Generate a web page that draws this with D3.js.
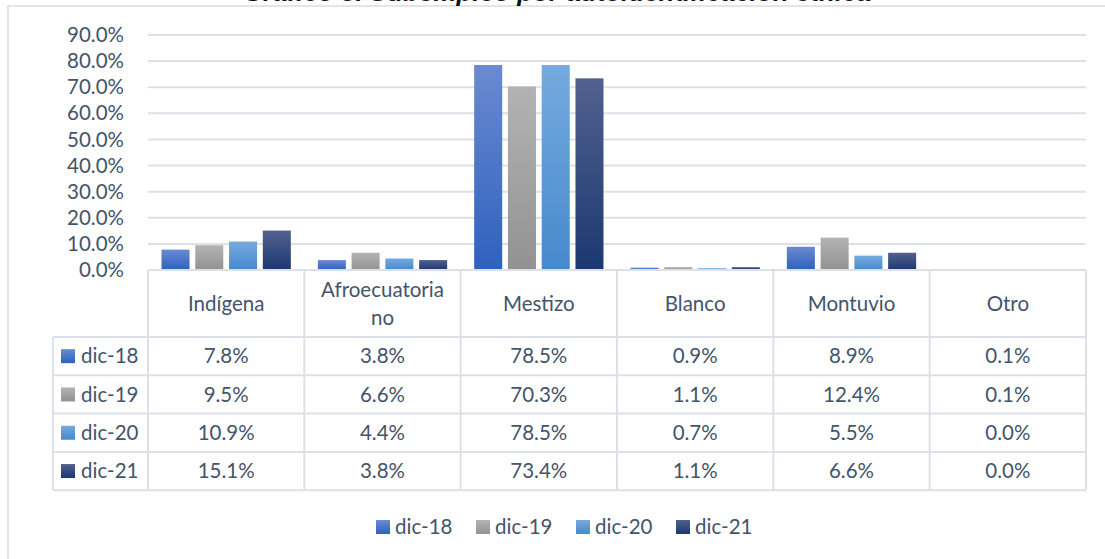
<!DOCTYPE html>
<html>
<head>
<meta charset="utf-8">
<script src="https://cdn.jsdelivr.net/npm/d3@7"></script>
<style>
  html, body { margin: 0; padding: 0; background: #fff; }
  svg { display: block; }
</style>
</head>
<body>
<svg id="chart"></svg>
<script>
// data
const categories = ["Indígena", "Afroecuatoriano", "Mestizo", "Blanco", "Montuvio", "Otro"];
const headerLines = [["Indígena"], ["Afroecuatoria", "no"], ["Mestizo"], ["Blanco"], ["Montuvio"], ["Otro"]];
const series = ["dic-18", "dic-19", "dic-20", "dic-21"];
const dic18 = [7.8, 3.8, 78.5, 0.9, 8.9, 0.1];
const dic19 = [9.5, 6.6, 70.3, 1.1, 12.4, 0.1];
const dic20 = [10.9, 4.4, 78.5, 0.7, 5.5, 0.0];
const dic21 = [15.1, 3.8, 73.4, 1.1, 6.6, 0.0];
const yTicks = [0, 10, 20, 30, 40, 50, 60, 70, 80, 90];
const title = "Gráfico 3. Subempleo por autoidentificación étnica";

const values = [dic18, dic19, dic20, dic21];
const width = 1105, height = 559;
const margin = {left: 148, right: 19, top: 35, bottom: 289};
const font = "Lato, 'Open Sans', sans-serif";
const fs = 20.5;
const textColor = "#44546a";
const lineColor = "#dde1e7";

// top / bottom of each series' gradient
const grads = [
  ["#6b8ad1", "#2e61be"],
  ["#b3b3b3", "#929292"],
  ["#76aade", "#4689cd"],
  ["#52618f", "#1b3870"]
];

const svg = d3.select("#chart")
  .attr("width", width)
  .attr("height", height)
  .attr("viewBox", [0, 0, width, height]);

const defs = svg.append("defs");
grads.forEach((c, i) => {
  const lg = defs.append("linearGradient")
    .attr("id", "g" + i)
    .attr("x1", 0).attr("y1", 0).attr("x2", 0).attr("y2", 1);
  lg.append("stop").attr("offset", "0%").attr("stop-color", c[0]);
  lg.append("stop").attr("offset", "100%").attr("stop-color", c[1]);
});

// outer chart frame
svg.append("rect")
  .attr("x", 8).attr("y", 6)
  .attr("width", width).attr("height", height)
  .attr("fill", "#fff")
  .attr("stroke", "#d9dde3")
  .attr("stroke-width", 1.5);

// title, mostly cut off at top of the picture (as in the reference)
svg.append("text")
  .attr("x", 557).attr("y", 0.5)
  .attr("text-anchor", "middle")
  .attr("font-family", "'Liberation Sans', Arial, sans-serif")
  .attr("font-size", 26)
  .attr("font-weight", "bold")
  .attr("font-style", "italic")
  .attr("fill", "#111")
  .text(title);

const x = d3.scaleBand()
  .domain(categories)
  .range([margin.left, width - margin.right]);

const xs = d3.scaleBand()
  .domain(series)
  .range([0, x.bandwidth()])
  .paddingInner(0.17)
  .paddingOuter(0.4);

const y = d3.scaleLinear()
  .domain([0, 90])
  .range([height - margin.bottom, margin.top]);

// gridlines
svg.append("g")
  .selectAll("line")
  .data(yTicks)
  .join("line")
  .attr("x1", margin.left).attr("x2", width - margin.right)
  .attr("y1", d => y(d)).attr("y2", d => y(d))
  .attr("stroke", lineColor)
  .attr("stroke-width", 2);

// y axis labels
const yAxis = svg.append("g")
  .attr("transform", `translate(${margin.left - 24},0)`)
  .call(d3.axisLeft(y).tickValues(yTicks).tickFormat(d => d.toFixed(1) + "%").tickSize(0).tickPadding(0));
yAxis.select(".domain").remove();
yAxis.selectAll(".tick text")
  .attr("font-family", font)
  .attr("font-size", fs)
  .attr("fill", textColor);

// bars
svg.append("g")
  .selectAll("g")
  .data(series)
  .join("g")
  .attr("fill", (d, i) => `url(#g${i})`)
  .selectAll("rect")
  .data((s, i) => categories.map((c, j) => ({c, s, v: values[i][j]})))
  .join("rect")
  .attr("x", d => x(d.c) + xs(d.s))
  .attr("y", d => y(d.v))
  .attr("width", xs.bandwidth())
  .attr("height", d => y(0) - y(d.v));

// data table under the plot
const tableTop = y(0);
const headerH = 67;
const rowH = 38.3;
const legendLeft = 53;
const table = svg.append("g");
const bottom = tableTop + headerH + rowH * series.length;

// horizontal lines
table.append("line")
  .attr("x1", margin.left).attr("x2", width - margin.right)
  .attr("y1", tableTop).attr("y2", tableTop)
  .attr("stroke", lineColor).attr("stroke-width", 2);
table.selectAll(".hl")
  .data(d3.range(series.length + 1))
  .join("line")
  .attr("x1", legendLeft).attr("x2", width - margin.right)
  .attr("y1", i => tableTop + headerH + i * rowH)
  .attr("y2", i => tableTop + headerH + i * rowH)
  .attr("stroke", lineColor).attr("stroke-width", 2);

// vertical lines
const colEdges = categories.map(c => x(c)).concat([x.range()[1]]);
table.selectAll(".vl")
  .data(colEdges)
  .join("line")
  .attr("x1", d => d).attr("x2", d => d)
  .attr("y1", tableTop).attr("y2", bottom)
  .attr("stroke", lineColor).attr("stroke-width", 2);
table.append("line")
  .attr("x1", legendLeft).attr("x2", legendLeft)
  .attr("y1", tableTop + headerH).attr("y2", bottom)
  .attr("stroke", lineColor).attr("stroke-width", 2);

// header labels
table.selectAll(".hdr")
  .data(categories)
  .join("text")
  .attr("x", d => x(d) + x.bandwidth() / 2)
  .attr("y", tableTop + headerH / 2)
  .attr("text-anchor", "middle")
  .attr("font-family", font)
  .attr("font-size", fs)
  .attr("fill", textColor)
  .each(function(d, i) {
    const lines = headerLines[i];
    const t = d3.select(this);
    lines.forEach((l, k) => {
      t.append("tspan")
        .attr("x", x(d) + x.bandwidth() / 2)
        .attr("dy", k === 0 ? (0.35 - (lines.length - 1) * 0.68) + "em" : "1.36em")
        .text(l);
    });
  });

// rows
series.forEach((s, i) => {
  const cy = tableTop + headerH + i * rowH + rowH / 2;
  table.append("rect")
    .attr("x", 61).attr("y", cy - 7)
    .attr("width", 14).attr("height", 14)
    .attr("fill", `url(#g${i})`);
  table.append("text")
    .attr("x", 81).attr("y", cy)
    .attr("dy", "0.35em")
    .attr("font-family", font)
    .attr("font-size", fs)
    .attr("fill", textColor)
    .text(s);
  table.selectAll(".v" + i)
    .data(categories)
    .join("text")
    .attr("x", d => x(d) + x.bandwidth() / 2)
    .attr("y", cy)
    .attr("dy", "0.35em")
    .attr("text-anchor", "middle")
    .attr("font-family", font)
    .attr("font-size", fs)
    .attr("fill", textColor)
    .text((d, j) => values[i][j].toFixed(1) + "%");
});

// bottom legend
const legend = svg.append("g")
  .selectAll("g")
  .data(series)
  .join("g")
  .attr("transform", (d, i) => `translate(${376 + i * 100},527)`);
legend.append("rect")
  .attr("x", 0).attr("y", -7)
  .attr("width", 14).attr("height", 14)
  .attr("fill", (d, i) => `url(#g${i})`);
legend.append("text")
  .attr("x", 19).attr("dy", "0.35em")
  .attr("font-family", font)
  .attr("font-size", fs)
  .attr("fill", textColor)
  .text(d => d);
</script>
</body>
</html>
